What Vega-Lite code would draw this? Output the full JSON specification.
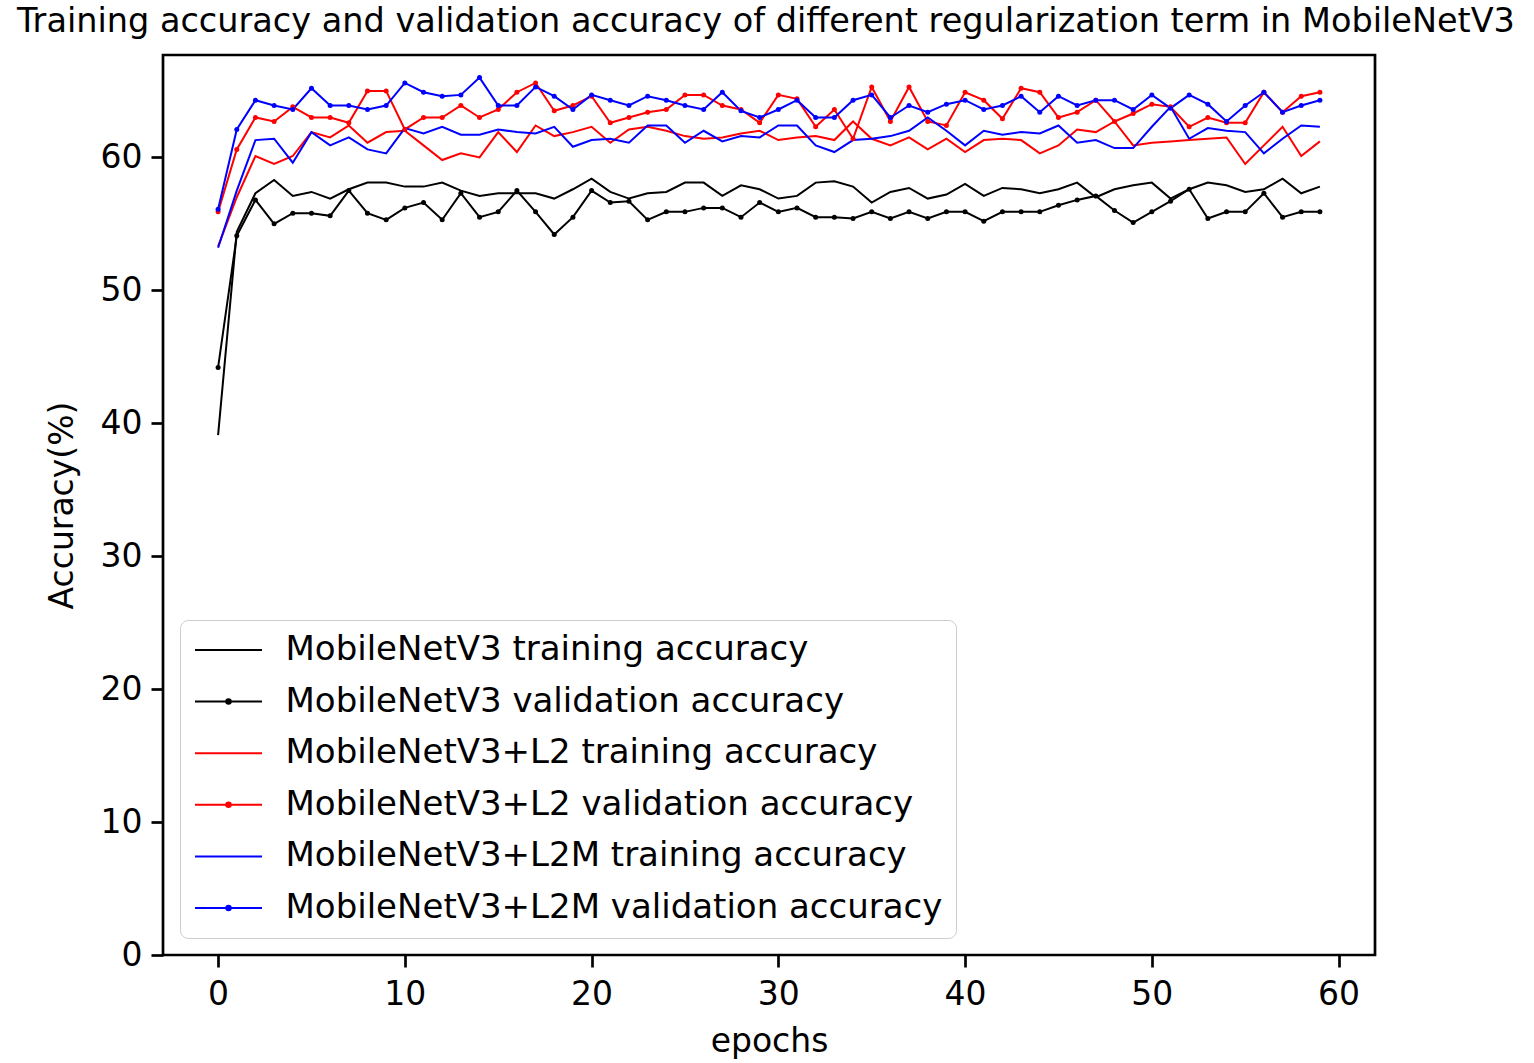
{
"$schema": "https://vega.github.io/schema/vega-lite/v6.json",
"width": 1212, "height": 900,
"autosize": "none",
"padding": {"left": 163, "top": 55, "right": 159, "bottom": 108},
"background": "white",
"config": {
  "font": "DejaVu Sans",
  "view": {"stroke": "black", "strokeWidth": 2.7},
  "axis": {"domain": false, "grid": false, "tickColor": "black", "tickSize": 12, "tickWidth": 2.7,
    "labelFontSize": 33, "labelColor": "black", "titleFontSize": 33, "titleFontWeight": "normal", "titleColor": "black",
    "labelFont": "DejaVu Sans", "titleFont": "DejaVu Sans"}
},
"title": {"text": "Training accuracy and validation accuracy of different regularization term in MobileNetV3", "fontSize": 33.5, "fontWeight": "normal", "font": "DejaVu Sans", "color": "black", "anchor": "middle", "offset": 16, "dx": -3},
"datasets": {"acc": [
{"epoch":0,"series":"MobileNetV3 training accuracy","acc":39.1},{"epoch":1,"series":"MobileNetV3 training accuracy","acc":54.4},{"epoch":2,"series":"MobileNetV3 training accuracy","acc":57.3},{"epoch":3,"series":"MobileNetV3 training accuracy","acc":58.3},{"epoch":4,"series":"MobileNetV3 training accuracy","acc":57.1},{"epoch":5,"series":"MobileNetV3 training accuracy","acc":57.4},{"epoch":6,"series":"MobileNetV3 training accuracy","acc":56.9},{"epoch":7,"series":"MobileNetV3 training accuracy","acc":57.6},{"epoch":8,"series":"MobileNetV3 training accuracy","acc":58.1},{"epoch":9,"series":"MobileNetV3 training accuracy","acc":58.1},
{"epoch":10,"series":"MobileNetV3 training accuracy","acc":57.8},{"epoch":11,"series":"MobileNetV3 training accuracy","acc":57.8},{"epoch":12,"series":"MobileNetV3 training accuracy","acc":58.1},{"epoch":13,"series":"MobileNetV3 training accuracy","acc":57.5},{"epoch":14,"series":"MobileNetV3 training accuracy","acc":57.1},{"epoch":15,"series":"MobileNetV3 training accuracy","acc":57.3},{"epoch":16,"series":"MobileNetV3 training accuracy","acc":57.3},{"epoch":17,"series":"MobileNetV3 training accuracy","acc":57.3},{"epoch":18,"series":"MobileNetV3 training accuracy","acc":56.9},{"epoch":19,"series":"MobileNetV3 training accuracy","acc":57.6},
{"epoch":20,"series":"MobileNetV3 training accuracy","acc":58.4},{"epoch":21,"series":"MobileNetV3 training accuracy","acc":57.4},{"epoch":22,"series":"MobileNetV3 training accuracy","acc":56.9},{"epoch":23,"series":"MobileNetV3 training accuracy","acc":57.3},{"epoch":24,"series":"MobileNetV3 training accuracy","acc":57.4},{"epoch":25,"series":"MobileNetV3 training accuracy","acc":58.1},{"epoch":26,"series":"MobileNetV3 training accuracy","acc":58.1},{"epoch":27,"series":"MobileNetV3 training accuracy","acc":57.1},{"epoch":28,"series":"MobileNetV3 training accuracy","acc":57.9},{"epoch":29,"series":"MobileNetV3 training accuracy","acc":57.6},
{"epoch":30,"series":"MobileNetV3 training accuracy","acc":56.9},{"epoch":31,"series":"MobileNetV3 training accuracy","acc":57.1},{"epoch":32,"series":"MobileNetV3 training accuracy","acc":58.1},{"epoch":33,"series":"MobileNetV3 training accuracy","acc":58.2},{"epoch":34,"series":"MobileNetV3 training accuracy","acc":57.8},{"epoch":35,"series":"MobileNetV3 training accuracy","acc":56.6},{"epoch":36,"series":"MobileNetV3 training accuracy","acc":57.4},{"epoch":37,"series":"MobileNetV3 training accuracy","acc":57.7},{"epoch":38,"series":"MobileNetV3 training accuracy","acc":56.9},{"epoch":39,"series":"MobileNetV3 training accuracy","acc":57.2},
{"epoch":40,"series":"MobileNetV3 training accuracy","acc":58.0},{"epoch":41,"series":"MobileNetV3 training accuracy","acc":57.1},{"epoch":42,"series":"MobileNetV3 training accuracy","acc":57.7},{"epoch":43,"series":"MobileNetV3 training accuracy","acc":57.6},{"epoch":44,"series":"MobileNetV3 training accuracy","acc":57.3},{"epoch":45,"series":"MobileNetV3 training accuracy","acc":57.6},{"epoch":46,"series":"MobileNetV3 training accuracy","acc":58.1},{"epoch":47,"series":"MobileNetV3 training accuracy","acc":57.0},{"epoch":48,"series":"MobileNetV3 training accuracy","acc":57.6},{"epoch":49,"series":"MobileNetV3 training accuracy","acc":57.9},
{"epoch":50,"series":"MobileNetV3 training accuracy","acc":58.1},{"epoch":51,"series":"MobileNetV3 training accuracy","acc":56.9},{"epoch":52,"series":"MobileNetV3 training accuracy","acc":57.6},{"epoch":53,"series":"MobileNetV3 training accuracy","acc":58.1},{"epoch":54,"series":"MobileNetV3 training accuracy","acc":57.9},{"epoch":55,"series":"MobileNetV3 training accuracy","acc":57.4},{"epoch":56,"series":"MobileNetV3 training accuracy","acc":57.6},{"epoch":57,"series":"MobileNetV3 training accuracy","acc":58.4},{"epoch":58,"series":"MobileNetV3 training accuracy","acc":57.3},{"epoch":59,"series":"MobileNetV3 training accuracy","acc":57.8},
{"epoch":0,"series":"MobileNetV3 validation accuracy","acc":44.2},{"epoch":1,"series":"MobileNetV3 validation accuracy","acc":54.1},{"epoch":2,"series":"MobileNetV3 validation accuracy","acc":56.8},{"epoch":3,"series":"MobileNetV3 validation accuracy","acc":55.0},{"epoch":4,"series":"MobileNetV3 validation accuracy","acc":55.8},{"epoch":5,"series":"MobileNetV3 validation accuracy","acc":55.8},{"epoch":6,"series":"MobileNetV3 validation accuracy","acc":55.6},{"epoch":7,"series":"MobileNetV3 validation accuracy","acc":57.5},{"epoch":8,"series":"MobileNetV3 validation accuracy","acc":55.8},{"epoch":9,"series":"MobileNetV3 validation accuracy","acc":55.3},
{"epoch":10,"series":"MobileNetV3 validation accuracy","acc":56.2},{"epoch":11,"series":"MobileNetV3 validation accuracy","acc":56.6},{"epoch":12,"series":"MobileNetV3 validation accuracy","acc":55.3},{"epoch":13,"series":"MobileNetV3 validation accuracy","acc":57.3},{"epoch":14,"series":"MobileNetV3 validation accuracy","acc":55.5},{"epoch":15,"series":"MobileNetV3 validation accuracy","acc":55.9},{"epoch":16,"series":"MobileNetV3 validation accuracy","acc":57.5},{"epoch":17,"series":"MobileNetV3 validation accuracy","acc":55.9},{"epoch":18,"series":"MobileNetV3 validation accuracy","acc":54.2},{"epoch":19,"series":"MobileNetV3 validation accuracy","acc":55.5},
{"epoch":20,"series":"MobileNetV3 validation accuracy","acc":57.5},{"epoch":21,"series":"MobileNetV3 validation accuracy","acc":56.6},{"epoch":22,"series":"MobileNetV3 validation accuracy","acc":56.7},{"epoch":23,"series":"MobileNetV3 validation accuracy","acc":55.3},{"epoch":24,"series":"MobileNetV3 validation accuracy","acc":55.9},{"epoch":25,"series":"MobileNetV3 validation accuracy","acc":55.9},{"epoch":26,"series":"MobileNetV3 validation accuracy","acc":56.2},{"epoch":27,"series":"MobileNetV3 validation accuracy","acc":56.2},{"epoch":28,"series":"MobileNetV3 validation accuracy","acc":55.5},{"epoch":29,"series":"MobileNetV3 validation accuracy","acc":56.6},
{"epoch":30,"series":"MobileNetV3 validation accuracy","acc":55.9},{"epoch":31,"series":"MobileNetV3 validation accuracy","acc":56.2},{"epoch":32,"series":"MobileNetV3 validation accuracy","acc":55.5},{"epoch":33,"series":"MobileNetV3 validation accuracy","acc":55.5},{"epoch":34,"series":"MobileNetV3 validation accuracy","acc":55.4},{"epoch":35,"series":"MobileNetV3 validation accuracy","acc":55.9},{"epoch":36,"series":"MobileNetV3 validation accuracy","acc":55.4},{"epoch":37,"series":"MobileNetV3 validation accuracy","acc":55.9},{"epoch":38,"series":"MobileNetV3 validation accuracy","acc":55.4},{"epoch":39,"series":"MobileNetV3 validation accuracy","acc":55.9},
{"epoch":40,"series":"MobileNetV3 validation accuracy","acc":55.9},{"epoch":41,"series":"MobileNetV3 validation accuracy","acc":55.2},{"epoch":42,"series":"MobileNetV3 validation accuracy","acc":55.9},{"epoch":43,"series":"MobileNetV3 validation accuracy","acc":55.9},{"epoch":44,"series":"MobileNetV3 validation accuracy","acc":55.9},{"epoch":45,"series":"MobileNetV3 validation accuracy","acc":56.4},{"epoch":46,"series":"MobileNetV3 validation accuracy","acc":56.8},{"epoch":47,"series":"MobileNetV3 validation accuracy","acc":57.1},{"epoch":48,"series":"MobileNetV3 validation accuracy","acc":56.0},{"epoch":49,"series":"MobileNetV3 validation accuracy","acc":55.1},
{"epoch":50,"series":"MobileNetV3 validation accuracy","acc":55.9},{"epoch":51,"series":"MobileNetV3 validation accuracy","acc":56.7},{"epoch":52,"series":"MobileNetV3 validation accuracy","acc":57.6},{"epoch":53,"series":"MobileNetV3 validation accuracy","acc":55.4},{"epoch":54,"series":"MobileNetV3 validation accuracy","acc":55.9},{"epoch":55,"series":"MobileNetV3 validation accuracy","acc":55.9},{"epoch":56,"series":"MobileNetV3 validation accuracy","acc":57.3},{"epoch":57,"series":"MobileNetV3 validation accuracy","acc":55.5},{"epoch":58,"series":"MobileNetV3 validation accuracy","acc":55.9},{"epoch":59,"series":"MobileNetV3 validation accuracy","acc":55.9},
{"epoch":0,"series":"MobileNetV3+L2 training accuracy","acc":53.3},{"epoch":1,"series":"MobileNetV3+L2 training accuracy","acc":57.0},{"epoch":2,"series":"MobileNetV3+L2 training accuracy","acc":60.1},{"epoch":3,"series":"MobileNetV3+L2 training accuracy","acc":59.5},{"epoch":4,"series":"MobileNetV3+L2 training accuracy","acc":60.1},{"epoch":5,"series":"MobileNetV3+L2 training accuracy","acc":61.9},{"epoch":6,"series":"MobileNetV3+L2 training accuracy","acc":61.5},{"epoch":7,"series":"MobileNetV3+L2 training accuracy","acc":62.4},{"epoch":8,"series":"MobileNetV3+L2 training accuracy","acc":61.1},{"epoch":9,"series":"MobileNetV3+L2 training accuracy","acc":61.9},
{"epoch":10,"series":"MobileNetV3+L2 training accuracy","acc":62.0},{"epoch":11,"series":"MobileNetV3+L2 training accuracy","acc":60.9},{"epoch":12,"series":"MobileNetV3+L2 training accuracy","acc":59.8},{"epoch":13,"series":"MobileNetV3+L2 training accuracy","acc":60.3},{"epoch":14,"series":"MobileNetV3+L2 training accuracy","acc":60.0},{"epoch":15,"series":"MobileNetV3+L2 training accuracy","acc":61.9},{"epoch":16,"series":"MobileNetV3+L2 training accuracy","acc":60.4},{"epoch":17,"series":"MobileNetV3+L2 training accuracy","acc":62.4},{"epoch":18,"series":"MobileNetV3+L2 training accuracy","acc":61.6},{"epoch":19,"series":"MobileNetV3+L2 training accuracy","acc":61.9},
{"epoch":20,"series":"MobileNetV3+L2 training accuracy","acc":62.3},{"epoch":21,"series":"MobileNetV3+L2 training accuracy","acc":61.1},{"epoch":22,"series":"MobileNetV3+L2 training accuracy","acc":62.1},{"epoch":23,"series":"MobileNetV3+L2 training accuracy","acc":62.3},{"epoch":24,"series":"MobileNetV3+L2 training accuracy","acc":62.0},{"epoch":25,"series":"MobileNetV3+L2 training accuracy","acc":61.6},{"epoch":26,"series":"MobileNetV3+L2 training accuracy","acc":61.4},{"epoch":27,"series":"MobileNetV3+L2 training accuracy","acc":61.5},{"epoch":28,"series":"MobileNetV3+L2 training accuracy","acc":61.8},{"epoch":29,"series":"MobileNetV3+L2 training accuracy","acc":62.0},
{"epoch":30,"series":"MobileNetV3+L2 training accuracy","acc":61.3},{"epoch":31,"series":"MobileNetV3+L2 training accuracy","acc":61.5},{"epoch":32,"series":"MobileNetV3+L2 training accuracy","acc":61.6},{"epoch":33,"series":"MobileNetV3+L2 training accuracy","acc":61.3},{"epoch":34,"series":"MobileNetV3+L2 training accuracy","acc":62.7},{"epoch":35,"series":"MobileNetV3+L2 training accuracy","acc":61.4},{"epoch":36,"series":"MobileNetV3+L2 training accuracy","acc":60.9},{"epoch":37,"series":"MobileNetV3+L2 training accuracy","acc":61.5},{"epoch":38,"series":"MobileNetV3+L2 training accuracy","acc":60.6},{"epoch":39,"series":"MobileNetV3+L2 training accuracy","acc":61.4},
{"epoch":40,"series":"MobileNetV3+L2 training accuracy","acc":60.4},{"epoch":41,"series":"MobileNetV3+L2 training accuracy","acc":61.3},{"epoch":42,"series":"MobileNetV3+L2 training accuracy","acc":61.4},{"epoch":43,"series":"MobileNetV3+L2 training accuracy","acc":61.3},{"epoch":44,"series":"MobileNetV3+L2 training accuracy","acc":60.3},{"epoch":45,"series":"MobileNetV3+L2 training accuracy","acc":60.9},{"epoch":46,"series":"MobileNetV3+L2 training accuracy","acc":62.1},{"epoch":47,"series":"MobileNetV3+L2 training accuracy","acc":61.9},{"epoch":48,"series":"MobileNetV3+L2 training accuracy","acc":62.7},{"epoch":49,"series":"MobileNetV3+L2 training accuracy","acc":60.9},
{"epoch":50,"series":"MobileNetV3+L2 training accuracy","acc":61.1},{"epoch":51,"series":"MobileNetV3+L2 training accuracy","acc":61.2},{"epoch":52,"series":"MobileNetV3+L2 training accuracy","acc":61.3},{"epoch":53,"series":"MobileNetV3+L2 training accuracy","acc":61.4},{"epoch":54,"series":"MobileNetV3+L2 training accuracy","acc":61.5},{"epoch":55,"series":"MobileNetV3+L2 training accuracy","acc":59.5},{"epoch":56,"series":"MobileNetV3+L2 training accuracy","acc":60.9},{"epoch":57,"series":"MobileNetV3+L2 training accuracy","acc":62.3},{"epoch":58,"series":"MobileNetV3+L2 training accuracy","acc":60.1},{"epoch":59,"series":"MobileNetV3+L2 training accuracy","acc":61.2},
{"epoch":0,"series":"MobileNetV3+L2 validation accuracy","acc":55.9},{"epoch":1,"series":"MobileNetV3+L2 validation accuracy","acc":60.6},{"epoch":2,"series":"MobileNetV3+L2 validation accuracy","acc":63.0},{"epoch":3,"series":"MobileNetV3+L2 validation accuracy","acc":62.7},{"epoch":4,"series":"MobileNetV3+L2 validation accuracy","acc":63.8},{"epoch":5,"series":"MobileNetV3+L2 validation accuracy","acc":63.0},{"epoch":6,"series":"MobileNetV3+L2 validation accuracy","acc":63.0},{"epoch":7,"series":"MobileNetV3+L2 validation accuracy","acc":62.6},{"epoch":8,"series":"MobileNetV3+L2 validation accuracy","acc":65.0},{"epoch":9,"series":"MobileNetV3+L2 validation accuracy","acc":65.0},
{"epoch":10,"series":"MobileNetV3+L2 validation accuracy","acc":62.1},{"epoch":11,"series":"MobileNetV3+L2 validation accuracy","acc":63.0},{"epoch":12,"series":"MobileNetV3+L2 validation accuracy","acc":63.0},{"epoch":13,"series":"MobileNetV3+L2 validation accuracy","acc":63.9},{"epoch":14,"series":"MobileNetV3+L2 validation accuracy","acc":63.0},{"epoch":15,"series":"MobileNetV3+L2 validation accuracy","acc":63.6},{"epoch":16,"series":"MobileNetV3+L2 validation accuracy","acc":64.9},{"epoch":17,"series":"MobileNetV3+L2 validation accuracy","acc":65.6},{"epoch":18,"series":"MobileNetV3+L2 validation accuracy","acc":63.5},{"epoch":19,"series":"MobileNetV3+L2 validation accuracy","acc":63.9},
{"epoch":20,"series":"MobileNetV3+L2 validation accuracy","acc":64.6},{"epoch":21,"series":"MobileNetV3+L2 validation accuracy","acc":62.6},{"epoch":22,"series":"MobileNetV3+L2 validation accuracy","acc":63.0},{"epoch":23,"series":"MobileNetV3+L2 validation accuracy","acc":63.4},{"epoch":24,"series":"MobileNetV3+L2 validation accuracy","acc":63.6},{"epoch":25,"series":"MobileNetV3+L2 validation accuracy","acc":64.7},{"epoch":26,"series":"MobileNetV3+L2 validation accuracy","acc":64.7},{"epoch":27,"series":"MobileNetV3+L2 validation accuracy","acc":63.9},{"epoch":28,"series":"MobileNetV3+L2 validation accuracy","acc":63.6},{"epoch":29,"series":"MobileNetV3+L2 validation accuracy","acc":62.6},
{"epoch":30,"series":"MobileNetV3+L2 validation accuracy","acc":64.7},{"epoch":31,"series":"MobileNetV3+L2 validation accuracy","acc":64.4},{"epoch":32,"series":"MobileNetV3+L2 validation accuracy","acc":62.3},{"epoch":33,"series":"MobileNetV3+L2 validation accuracy","acc":63.6},{"epoch":34,"series":"MobileNetV3+L2 validation accuracy","acc":61.4},{"epoch":35,"series":"MobileNetV3+L2 validation accuracy","acc":65.3},{"epoch":36,"series":"MobileNetV3+L2 validation accuracy","acc":62.7},{"epoch":37,"series":"MobileNetV3+L2 validation accuracy","acc":65.3},{"epoch":38,"series":"MobileNetV3+L2 validation accuracy","acc":62.7},{"epoch":39,"series":"MobileNetV3+L2 validation accuracy","acc":62.4},
{"epoch":40,"series":"MobileNetV3+L2 validation accuracy","acc":64.9},{"epoch":41,"series":"MobileNetV3+L2 validation accuracy","acc":64.3},{"epoch":42,"series":"MobileNetV3+L2 validation accuracy","acc":62.9},{"epoch":43,"series":"MobileNetV3+L2 validation accuracy","acc":65.2},{"epoch":44,"series":"MobileNetV3+L2 validation accuracy","acc":64.9},{"epoch":45,"series":"MobileNetV3+L2 validation accuracy","acc":63.0},{"epoch":46,"series":"MobileNetV3+L2 validation accuracy","acc":63.4},{"epoch":47,"series":"MobileNetV3+L2 validation accuracy","acc":64.3},{"epoch":48,"series":"MobileNetV3+L2 validation accuracy","acc":62.7},{"epoch":49,"series":"MobileNetV3+L2 validation accuracy","acc":63.3},
{"epoch":50,"series":"MobileNetV3+L2 validation accuracy","acc":64.0},{"epoch":51,"series":"MobileNetV3+L2 validation accuracy","acc":63.8},{"epoch":52,"series":"MobileNetV3+L2 validation accuracy","acc":62.3},{"epoch":53,"series":"MobileNetV3+L2 validation accuracy","acc":63.0},{"epoch":54,"series":"MobileNetV3+L2 validation accuracy","acc":62.6},{"epoch":55,"series":"MobileNetV3+L2 validation accuracy","acc":62.6},{"epoch":56,"series":"MobileNetV3+L2 validation accuracy","acc":64.9},{"epoch":57,"series":"MobileNetV3+L2 validation accuracy","acc":63.4},{"epoch":58,"series":"MobileNetV3+L2 validation accuracy","acc":64.6},{"epoch":59,"series":"MobileNetV3+L2 validation accuracy","acc":64.9},
{"epoch":0,"series":"MobileNetV3+L2M training accuracy","acc":53.2},{"epoch":1,"series":"MobileNetV3+L2M training accuracy","acc":57.5},{"epoch":2,"series":"MobileNetV3+L2M training accuracy","acc":61.3},{"epoch":3,"series":"MobileNetV3+L2M training accuracy","acc":61.4},{"epoch":4,"series":"MobileNetV3+L2M training accuracy","acc":59.6},{"epoch":5,"series":"MobileNetV3+L2M training accuracy","acc":61.9},{"epoch":6,"series":"MobileNetV3+L2M training accuracy","acc":60.9},{"epoch":7,"series":"MobileNetV3+L2M training accuracy","acc":61.5},{"epoch":8,"series":"MobileNetV3+L2M training accuracy","acc":60.6},{"epoch":9,"series":"MobileNetV3+L2M training accuracy","acc":60.3},
{"epoch":10,"series":"MobileNetV3+L2M training accuracy","acc":62.2},{"epoch":11,"series":"MobileNetV3+L2M training accuracy","acc":61.8},{"epoch":12,"series":"MobileNetV3+L2M training accuracy","acc":62.3},{"epoch":13,"series":"MobileNetV3+L2M training accuracy","acc":61.7},{"epoch":14,"series":"MobileNetV3+L2M training accuracy","acc":61.7},{"epoch":15,"series":"MobileNetV3+L2M training accuracy","acc":62.1},{"epoch":16,"series":"MobileNetV3+L2M training accuracy","acc":61.9},{"epoch":17,"series":"MobileNetV3+L2M training accuracy","acc":61.8},{"epoch":18,"series":"MobileNetV3+L2M training accuracy","acc":62.3},{"epoch":19,"series":"MobileNetV3+L2M training accuracy","acc":60.8},
{"epoch":20,"series":"MobileNetV3+L2M training accuracy","acc":61.3},{"epoch":21,"series":"MobileNetV3+L2M training accuracy","acc":61.4},{"epoch":22,"series":"MobileNetV3+L2M training accuracy","acc":61.1},{"epoch":23,"series":"MobileNetV3+L2M training accuracy","acc":62.4},{"epoch":24,"series":"MobileNetV3+L2M training accuracy","acc":62.4},{"epoch":25,"series":"MobileNetV3+L2M training accuracy","acc":61.1},{"epoch":26,"series":"MobileNetV3+L2M training accuracy","acc":62.0},{"epoch":27,"series":"MobileNetV3+L2M training accuracy","acc":61.2},{"epoch":28,"series":"MobileNetV3+L2M training accuracy","acc":61.6},{"epoch":29,"series":"MobileNetV3+L2M training accuracy","acc":61.5},
{"epoch":30,"series":"MobileNetV3+L2M training accuracy","acc":62.4},{"epoch":31,"series":"MobileNetV3+L2M training accuracy","acc":62.4},{"epoch":32,"series":"MobileNetV3+L2M training accuracy","acc":60.9},{"epoch":33,"series":"MobileNetV3+L2M training accuracy","acc":60.4},{"epoch":34,"series":"MobileNetV3+L2M training accuracy","acc":61.3},{"epoch":35,"series":"MobileNetV3+L2M training accuracy","acc":61.4},{"epoch":36,"series":"MobileNetV3+L2M training accuracy","acc":61.6},{"epoch":37,"series":"MobileNetV3+L2M training accuracy","acc":62.0},{"epoch":38,"series":"MobileNetV3+L2M training accuracy","acc":63.0},{"epoch":39,"series":"MobileNetV3+L2M training accuracy","acc":62.0},
{"epoch":40,"series":"MobileNetV3+L2M training accuracy","acc":60.9},{"epoch":41,"series":"MobileNetV3+L2M training accuracy","acc":62.0},{"epoch":42,"series":"MobileNetV3+L2M training accuracy","acc":61.7},{"epoch":43,"series":"MobileNetV3+L2M training accuracy","acc":61.9},{"epoch":44,"series":"MobileNetV3+L2M training accuracy","acc":61.8},{"epoch":45,"series":"MobileNetV3+L2M training accuracy","acc":62.4},{"epoch":46,"series":"MobileNetV3+L2M training accuracy","acc":61.1},{"epoch":47,"series":"MobileNetV3+L2M training accuracy","acc":61.3},{"epoch":48,"series":"MobileNetV3+L2M training accuracy","acc":60.7},{"epoch":49,"series":"MobileNetV3+L2M training accuracy","acc":60.7},
{"epoch":50,"series":"MobileNetV3+L2M training accuracy","acc":62.3},{"epoch":51,"series":"MobileNetV3+L2M training accuracy","acc":63.8},{"epoch":52,"series":"MobileNetV3+L2M training accuracy","acc":61.4},{"epoch":53,"series":"MobileNetV3+L2M training accuracy","acc":62.2},{"epoch":54,"series":"MobileNetV3+L2M training accuracy","acc":62.0},{"epoch":55,"series":"MobileNetV3+L2M training accuracy","acc":61.9},{"epoch":56,"series":"MobileNetV3+L2M training accuracy","acc":60.3},{"epoch":57,"series":"MobileNetV3+L2M training accuracy","acc":61.4},{"epoch":58,"series":"MobileNetV3+L2M training accuracy","acc":62.4},{"epoch":59,"series":"MobileNetV3+L2M training accuracy","acc":62.3},
{"epoch":0,"series":"MobileNetV3+L2M validation accuracy","acc":56.1},{"epoch":1,"series":"MobileNetV3+L2M validation accuracy","acc":62.1},{"epoch":2,"series":"MobileNetV3+L2M validation accuracy","acc":64.3},{"epoch":3,"series":"MobileNetV3+L2M validation accuracy","acc":63.9},{"epoch":4,"series":"MobileNetV3+L2M validation accuracy","acc":63.6},{"epoch":5,"series":"MobileNetV3+L2M validation accuracy","acc":65.2},{"epoch":6,"series":"MobileNetV3+L2M validation accuracy","acc":63.9},{"epoch":7,"series":"MobileNetV3+L2M validation accuracy","acc":63.9},{"epoch":8,"series":"MobileNetV3+L2M validation accuracy","acc":63.6},{"epoch":9,"series":"MobileNetV3+L2M validation accuracy","acc":63.9},
{"epoch":10,"series":"MobileNetV3+L2M validation accuracy","acc":65.6},{"epoch":11,"series":"MobileNetV3+L2M validation accuracy","acc":64.9},{"epoch":12,"series":"MobileNetV3+L2M validation accuracy","acc":64.6},{"epoch":13,"series":"MobileNetV3+L2M validation accuracy","acc":64.7},{"epoch":14,"series":"MobileNetV3+L2M validation accuracy","acc":66.0},{"epoch":15,"series":"MobileNetV3+L2M validation accuracy","acc":63.9},{"epoch":16,"series":"MobileNetV3+L2M validation accuracy","acc":63.9},{"epoch":17,"series":"MobileNetV3+L2M validation accuracy","acc":65.3},{"epoch":18,"series":"MobileNetV3+L2M validation accuracy","acc":64.6},{"epoch":19,"series":"MobileNetV3+L2M validation accuracy","acc":63.6},
{"epoch":20,"series":"MobileNetV3+L2M validation accuracy","acc":64.7},{"epoch":21,"series":"MobileNetV3+L2M validation accuracy","acc":64.3},{"epoch":22,"series":"MobileNetV3+L2M validation accuracy","acc":63.9},{"epoch":23,"series":"MobileNetV3+L2M validation accuracy","acc":64.6},{"epoch":24,"series":"MobileNetV3+L2M validation accuracy","acc":64.3},{"epoch":25,"series":"MobileNetV3+L2M validation accuracy","acc":63.9},{"epoch":26,"series":"MobileNetV3+L2M validation accuracy","acc":63.6},{"epoch":27,"series":"MobileNetV3+L2M validation accuracy","acc":64.9},{"epoch":28,"series":"MobileNetV3+L2M validation accuracy","acc":63.5},{"epoch":29,"series":"MobileNetV3+L2M validation accuracy","acc":63.0},
{"epoch":30,"series":"MobileNetV3+L2M validation accuracy","acc":63.6},{"epoch":31,"series":"MobileNetV3+L2M validation accuracy","acc":64.3},{"epoch":32,"series":"MobileNetV3+L2M validation accuracy","acc":63.0},{"epoch":33,"series":"MobileNetV3+L2M validation accuracy","acc":63.0},{"epoch":34,"series":"MobileNetV3+L2M validation accuracy","acc":64.3},{"epoch":35,"series":"MobileNetV3+L2M validation accuracy","acc":64.7},{"epoch":36,"series":"MobileNetV3+L2M validation accuracy","acc":63.0},{"epoch":37,"series":"MobileNetV3+L2M validation accuracy","acc":63.9},{"epoch":38,"series":"MobileNetV3+L2M validation accuracy","acc":63.4},{"epoch":39,"series":"MobileNetV3+L2M validation accuracy","acc":64.0},
{"epoch":40,"series":"MobileNetV3+L2M validation accuracy","acc":64.3},{"epoch":41,"series":"MobileNetV3+L2M validation accuracy","acc":63.6},{"epoch":42,"series":"MobileNetV3+L2M validation accuracy","acc":63.9},{"epoch":43,"series":"MobileNetV3+L2M validation accuracy","acc":64.6},{"epoch":44,"series":"MobileNetV3+L2M validation accuracy","acc":63.4},{"epoch":45,"series":"MobileNetV3+L2M validation accuracy","acc":64.6},{"epoch":46,"series":"MobileNetV3+L2M validation accuracy","acc":63.9},{"epoch":47,"series":"MobileNetV3+L2M validation accuracy","acc":64.3},{"epoch":48,"series":"MobileNetV3+L2M validation accuracy","acc":64.3},{"epoch":49,"series":"MobileNetV3+L2M validation accuracy","acc":63.6},
{"epoch":50,"series":"MobileNetV3+L2M validation accuracy","acc":64.7},{"epoch":51,"series":"MobileNetV3+L2M validation accuracy","acc":63.7},{"epoch":52,"series":"MobileNetV3+L2M validation accuracy","acc":64.7},{"epoch":53,"series":"MobileNetV3+L2M validation accuracy","acc":64.0},{"epoch":54,"series":"MobileNetV3+L2M validation accuracy","acc":62.7},{"epoch":55,"series":"MobileNetV3+L2M validation accuracy","acc":63.9},{"epoch":56,"series":"MobileNetV3+L2M validation accuracy","acc":64.9},{"epoch":57,"series":"MobileNetV3+L2M validation accuracy","acc":63.4},{"epoch":58,"series":"MobileNetV3+L2M validation accuracy","acc":63.9},{"epoch":59,"series":"MobileNetV3+L2M validation accuracy","acc":64.3}
]},
"data": {"name": "acc"},
"layer": [
  {
    "mark": {"type": "line", "strokeWidth": 2, "clip": true},
    "encoding": {
      "x": {"field": "epoch", "type": "quantitative", "scale": {"domain": [-2.95, 61.95], "nice": false, "zero": false},
        "axis": {"values": [0, 10, 20, 30, 40, 50, 60], "title": "epochs", "labelPadding": 11, "titlePadding": 14}},
      "y": {"field": "acc", "type": "quantitative", "scale": {"domain": [0, 67.7], "nice": false},
        "axis": {"values": [0, 10, 20, 30, 40, 50, 60], "title": "Accuracy(%)", "labelPadding": 9, "titlePadding": 21}},
      "color": {"field": "series", "type": "nominal",
        "scale": {"domain": ["MobileNetV3 training accuracy", "MobileNetV3 validation accuracy", "MobileNetV3+L2 training accuracy", "MobileNetV3+L2 validation accuracy", "MobileNetV3+L2M training accuracy", "MobileNetV3+L2M validation accuracy"],
          "range": ["#000000", "#000000", "#ff0000", "#ff0000", "#0000ff", "#0000ff"]},
        "legend": {
          "orient": "none", "legendX": 17, "legendY": 565, "title": null,
          "labelFont": "DejaVu Sans", "labelFontSize": 34, "labelColor": "black", "labelLimit": 2000,
          "symbolSize": 100, "symbolStrokeWidth": 2, "symbolOffset": 18.5, "labelOffset": 40,
          "rowPadding": 17.6, "padding": 13,
          "strokeColor": "#cccccc", "fillColor": "rgba(255,255,255,0.8)", "cornerRadius": 8,
          "encode": {"symbols": {"update": {
            "shape": [{"test": "indexof(datum.value, 'validation') >= 0", "value": "M-6.7,0L6.7,0M0.45,0A0.45,0.45,0,1,1,-0.45,0A0.45,0.45,0,1,1,0.45,0"}, {"value": "M-6.7,0L6.7,0"}],
            "stroke": {"scale": "color", "field": "value"},
            "fill": {"scale": "color", "field": "value"},
            "fillOpacity": {"value": 1},
            "strokeWidth": {"value": 2},
            "opacity": {"value": 1}
          }}}
        }}
    }
  },
  {
    "transform": [{"filter": "indexof(datum.series, 'validation') >= 0"}],
    "mark": {"type": "point", "filled": true, "size": 25, "opacity": 1, "clip": true},
    "encoding": {
      "x": {"field": "epoch", "type": "quantitative"},
      "y": {"field": "acc", "type": "quantitative"},
      "fill": {"field": "series", "type": "nominal",
        "scale": {"domain": ["MobileNetV3 training accuracy", "MobileNetV3 validation accuracy", "MobileNetV3+L2 training accuracy", "MobileNetV3+L2 validation accuracy", "MobileNetV3+L2M training accuracy", "MobileNetV3+L2M validation accuracy"],
          "range": ["#000000", "#000000", "#ff0000", "#ff0000", "#0000ff", "#0000ff"]},
        "legend": null}
    }
  }
]
}
